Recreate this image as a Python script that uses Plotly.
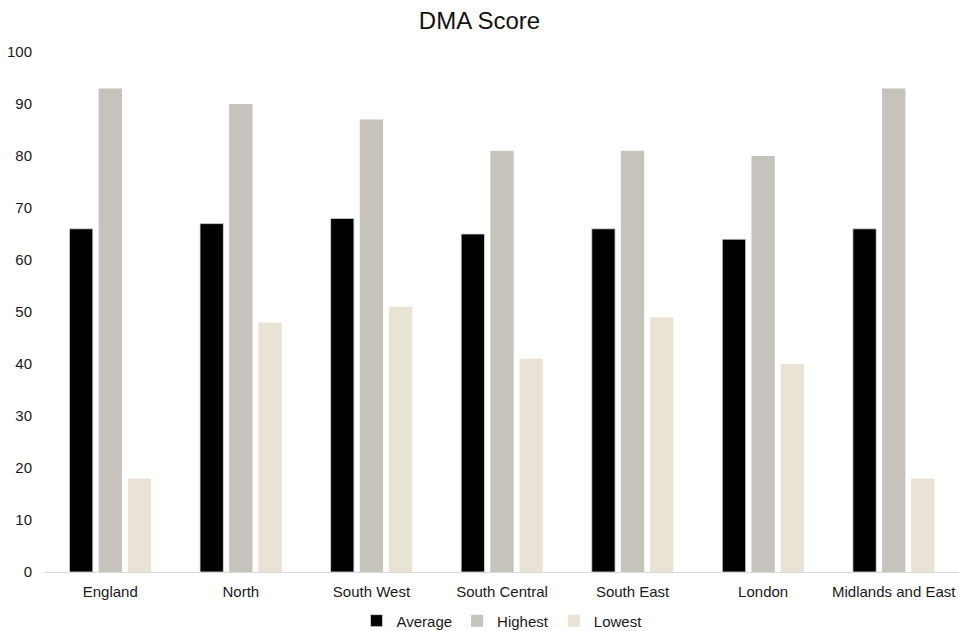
import plotly.graph_objects as go

categories = ["England", "North", "South West", "South Central", "South East", "London", "Midlands and East"]
average = [66, 67, 68, 65, 66, 64, 66]
highest = [93, 90, 87, 81, 81, 80, 93]
lowest = [18, 48, 51, 41, 49, 40, 18]

fig = go.Figure()
fig.add_trace(go.Bar(name="Average", x=categories, y=average, marker=dict(color="#000000", line=dict(color="#cfe0d8", width=0.8))))
fig.add_trace(go.Bar(name="Highest", x=categories, y=highest, marker=dict(color="#c6c2bc", line=dict(width=0))))
fig.add_trace(go.Bar(name="Lowest", x=categories, y=lowest, marker=dict(color="#e8e3d4", line=dict(width=0))))

fig.update_layout(
    width=959, height=631,
    margin=dict(l=45, r=0, t=52, b=59, autoexpand=False),
    paper_bgcolor="white", plot_bgcolor="white",
    barmode="group", bargap=0.33, bargroupgap=0.2,
    font=dict(family="Liberation Sans, Arial, sans-serif", size=14, color="#1a1a1a"),
    title=dict(text="DMA Score", x=0.5, xanchor="center", y=0.968, yanchor="middle",
               font=dict(size=24, color="#111111")),
    showlegend=True,
    legend=dict(orientation="h", x=0.5, xanchor="center", yref="container", y=0.016, yanchor="middle",
                font=dict(size=15), itemwidth=30, traceorder="normal"),
    xaxis=dict(showline=True, linecolor="#d9d9d9", linewidth=1, ticks="", showgrid=False,
               ticklabelstandoff=6, tickfont=dict(size=15)),
    yaxis=dict(range=[0, 100], dtick=10, showgrid=False, zeroline=False, showline=False,
               ticks="", ticklabelstandoff=12, tickfont=dict(size=15)),
)

fig.write_html("out.html")
